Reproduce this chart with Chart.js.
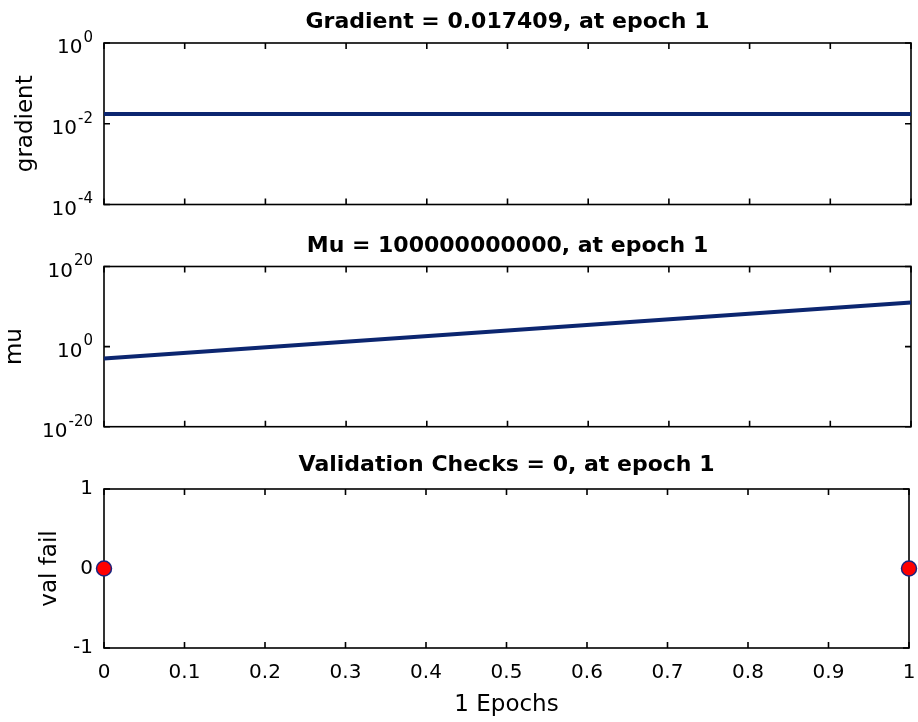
<!DOCTYPE html>
<html>
<head>
<meta charset="utf-8">
<script src="https://cdn.jsdelivr.net/npm/chart.js@4.4.1/dist/chart.umd.min.js"></script>
<style>
  html, body { margin: 0; padding: 0; background: #fff; }
  #wrap { position: relative; width: 918px; height: 722px; overflow: hidden; }
  #wrap canvas { position: absolute; left: 0; }
</style>
</head>
<body>
<div id="wrap">
  <canvas id="gradChart" width="918" height="222" style="top:0"></canvas>
  <canvas id="muChart" width="918" height="223" style="top:222px"></canvas>
  <canvas id="valChart" width="918" height="277" style="top:445px"></canvas>
</div>
<script>
// training record, epochs 0..1
var epochs = [0, 1];
var gradientVals = [0.017409, 0.017409];
var muVals = [0.001, 1e11];
var valFailVals = [0, 0];

var xTicks = [0, 0.1, 0.2, 0.3, 0.4, 0.5, 0.6, 0.7, 0.8, 0.9, 1];
var xTickLabels = ['0', '0.1', '0.2', '0.3', '0.4', '0.5', '0.6', '0.7', '0.8', '0.9', '1'];
var gradTicks = [1e-4, 1e-2, 1];
var muTicks = [1e-20, 1, 1e20];
var valTicks = [-1, 0, 1];

var titles = [
    'Gradient = 0.017409, at epoch 1',
    'Mu = 100000000000, at epoch 1',
    'Validation Checks = 0, at epoch 1'
];

var FONT = "'DejaVu Sans', 'Liberation Sans', sans-serif";
var LINE = '#0c2670';

Chart.defaults.color = '#000';
Chart.defaults.font.family = FONT;

function points(ys) {
    return epochs.map(function (x, i) { return { x: x, y: ys[i] }; });
}

// frame box, inward tick marks, and 10^n labels for log axes
var framePlugin = {
    id: 'framePlugin',
    beforeDatasetsDraw: function (chart) {
        var ctx = chart.ctx, a = chart.chartArea;
        var xs = chart.scales.x, ys = chart.scales.y;
        ctx.save();
        ctx.strokeStyle = '#000';
        ctx.lineWidth = 1.6;
        ctx.beginPath();
        xs.ticks.forEach(function (t, i) {
            var px = xs.getPixelForTick(i);
            ctx.moveTo(px, a.bottom); ctx.lineTo(px, a.bottom - 6);
            ctx.moveTo(px, a.top); ctx.lineTo(px, a.top + 6);
        });
        ys.ticks.forEach(function (t, i) {
            var py = ys.getPixelForTick(i);
            ctx.moveTo(a.left, py); ctx.lineTo(a.left + 6, py);
            ctx.moveTo(a.right, py); ctx.lineTo(a.right - 6, py);
        });
        ctx.stroke();
        ctx.strokeRect(a.left, a.top, a.width, a.height);
        ctx.restore();
    },
    afterDraw: function (chart) {
        var ys = chart.scales.y;
        if (ys.type !== 'logarithmic') return;
        var ctx = chart.ctx;
        var right = 93;
        ctx.save();
        ctx.fillStyle = '#000';
        ctx.textAlign = 'right';
        ctx.textBaseline = 'middle';
        ys.ticks.forEach(function (t, i) {
            var py = ys.getPixelForTick(i);
            var exp = String(Math.round(Math.log10(t.value)));
            ctx.font = '15px ' + FONT;
            var w = ctx.measureText(exp).width;
            ctx.fillText(exp, right, py - 5);
            ctx.font = '20px ' + FONT;
            ctx.fillText('10', right - w - 1, py + 5);
        });
        ctx.restore();
    }
};

function makePanel(id, cfg) {
    var el = document.getElementById(id);
    var isLog = cfg.yType === 'logarithmic';
    return new Chart(el.getContext('2d'), {
        type: 'line',
        data: {
            datasets: [{
                data: points(cfg.values),
                borderColor: LINE,
                borderWidth: 4,
                showLine: cfg.showLine,
                pointRadius: cfg.pointRadius,
                pointBackgroundColor: '#ff0000',
                pointBorderColor: '#1a237e',
                pointBorderWidth: 1.5,
                clip: false
            }]
        },
        options: {
            responsive: false,
            devicePixelRatio: 1,
            animation: false,
            layout: { padding: { left: 0, right: 7, top: 0, bottom: cfg.padBottom } },
            plugins: { legend: { display: false }, tooltip: { enabled: false } },
            scales: {
                top: {
                    axis: 'x', type: 'linear', position: 'top', min: 0, max: 1,
                    grid: { display: false, drawTicks: false }, border: { display: false },
                    ticks: { display: false },
                    title: {
                        display: true, text: cfg.title,
                        font: { size: 22, weight: 'bold' },
                        padding: { top: cfg.titlePad[0], bottom: cfg.titlePad[1] }
                    }
                },
                x: {
                    type: 'linear', position: 'bottom', min: 0, max: 1,
                    // tick marks hidden; tickLength only spaces the labels
                    grid: { display: false, drawTicks: true, tickLength: 13 }, border: { display: false },
                    afterBuildTicks: function (s) { s.ticks = xTicks.map(function (v) { return { value: v }; }); },
                    afterFit: function (s) { s.height = cfg.xHeight; },
                    ticks: {
                        display: cfg.xLabels, padding: 0, font: { size: 20 }, maxRotation: 0, autoSkip: false,
                        callback: function (v, i) { return xTickLabels[i]; }
                    },
                    title: {
                        display: cfg.xLabels, text: '1 Epochs',
                        font: { size: 23 }, padding: { top: 0, bottom: 3 }
                    }
                },
                y: {
                    type: cfg.yType, min: cfg.yMin, max: cfg.yMax,
                    grid: { display: false, drawTicks: false }, border: { display: false },
                    afterBuildTicks: function (s) { s.ticks = cfg.yTicks.map(function (v) { return { value: v }; }); },
                    afterFit: function (s) { s.width = 104; },
                    ticks: { display: !isLog, padding: 11, font: { size: 20 } },
                    title: {
                        display: true, text: cfg.yTitle,
                        font: { size: 23 }, padding: { top: cfg.yTitlePad, bottom: 0 }
                    }
                }
            }
        },
        plugins: [framePlugin]
    });
}

makePanel('gradChart', {
    title: titles[0], values: gradientVals, yType: 'logarithmic',
    yMin: 1e-4, yMax: 1, yTicks: gradTicks, yTitle: 'gradient', yTitlePad: 12,
    titlePad: [9, 7.6], padBottom: 17.5, xHeight: 0, xLabels: false,
    showLine: true, pointRadius: 0
});

makePanel('muChart', {
    title: titles[1], values: muVals, yType: 'logarithmic',
    yMin: 1e-20, yMax: 1e20, yTicks: muTicks, yTitle: 'mu', yTitlePad: 1,
    titlePad: [11.5, 6.6], padBottom: 18.3, xHeight: 0, xLabels: false,
    showLine: true, pointRadius: 0
});

makePanel('valChart', {
    title: titles[2], values: valFailVals, yType: 'linear',
    yMin: -1, yMax: 1, yTicks: valTicks, yTitle: 'val fail', yTitlePad: 36,
    titlePad: [7.5, 10.1], padBottom: 0, xHeight: 74, xLabels: true,
    showLine: false, pointRadius: 7.5
});
</script>
</body>
</html>
